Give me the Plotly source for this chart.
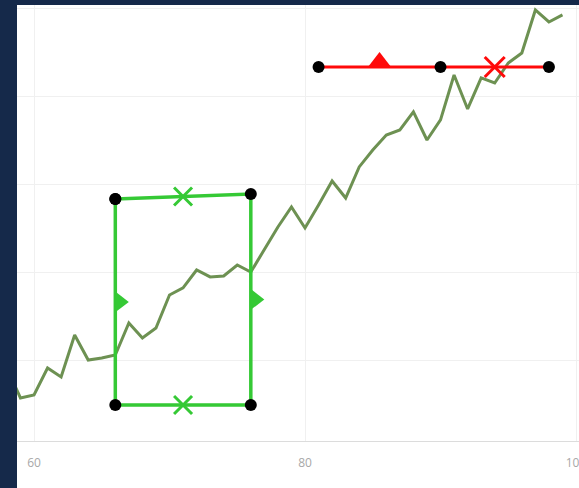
import plotly.graph_objects as go

# ---- data ----
series_x = list(range(58, 100))
series_y = [9.20, 5.80, 6.14, 9.20, 8.18, 12.95, 10.11, 10.34, 10.68, 14.32,
            12.61, 13.75, 17.50, 18.30, 20.34, 19.55, 19.66, 20.91, 20.11, 22.61,
            25.23, 27.50, 25.11, 27.73, 30.45, 28.52, 32.05, 33.98, 35.68, 36.25,
            38.30, 35.11, 37.39, 42.50, 38.64, 42.16, 41.59, 43.86, 45.00, 49.89,
            48.52, 49.32]

poly_x = [66, 76, 76, 66]
poly_y = [28.41, 28.98, 5.0, 5.0]

red_x = [81, 90, 98]
red_y = [43.41, 43.41, 43.41]

x_ticks = [60, 80, 100]

# ---- layout geometry ----
W, H = 579, 488
ML, MR, MT, MB = 17, 0, 5, 47
XR = [58.745, 100.22]
YR = [0.909, 50.45]
px_per_x = (W - ML - MR) / (XR[1] - XR[0])
px_per_y = (H - MT - MB) / (YR[1] - YR[0])

GREEN = "#35c935"
OLIVE = "#6d9152"
BG = "#15294a"

fig = go.Figure()

fig.add_trace(go.Scatter(x=series_x, y=series_y, mode="lines",
                         line=dict(color=OLIVE, width=3), hoverinfo="skip"))

# polygon (closed)
px_c = poly_x + poly_x[:1]
py_c = poly_y + poly_y[:1]
fig.add_trace(go.Scatter(x=px_c, y=py_c, mode="lines+markers",
                         line=dict(color=GREEN, width=3.5),
                         marker=dict(color="black", size=12)))

# midpoints of polygon edges
mids = [((px_c[i] + px_c[i + 1]) / 2, (py_c[i] + py_c[i + 1]) / 2) for i in range(4)]
hx = [m[0] for i, m in enumerate(mids) if px_c[i] != px_c[i + 1]]
hy = [m[1] for i, m in enumerate(mids) if px_c[i] != px_c[i + 1]]
vx = [m[0] for i, m in enumerate(mids) if px_c[i] == px_c[i + 1]]
vy = [m[1] for i, m in enumerate(mids) if px_c[i] == px_c[i + 1]]

tri_g = 18
fig.add_trace(go.Scatter(x=[v + (tri_g / 4) / px_per_x for v in vx], y=vy, mode="markers",
                         marker=dict(symbol="triangle-right", color=GREEN, size=tri_g,
                                     line=dict(width=0))))
fig.add_trace(go.Scatter(x=hx, y=hy, mode="markers",
                         marker=dict(symbol="x-thin", size=18,
                                     line=dict(color=GREEN, width=3))))

# red line
fig.add_trace(go.Scatter(x=red_x, y=red_y, mode="lines+markers",
                         line=dict(color="#ff0a0a", width=3),
                         marker=dict(color="black", size=12)))
tri_r = 20
fig.add_trace(go.Scatter(x=[(red_x[0] + red_x[1]) / 2],
                         y=[(red_y[0] + red_y[1]) / 2 + (tri_r / 4) / px_per_y],
                         mode="markers",
                         marker=dict(symbol="triangle-up", color="#ff0a0a", size=tri_r,
                                     line=dict(width=0))))
fig.add_trace(go.Scatter(x=[(red_x[1] + red_x[2]) / 2], y=[(red_y[1] + red_y[2]) / 2],
                         mode="markers",
                         marker=dict(symbol="x-thin", size=20,
                                     line=dict(color="#ff0a0a", width=3))))

fig.add_shape(type="rect", xref="paper", yref="paper",
              x0=0, x1=1.02, y0=-MB / (H - MT - MB), y1=1,
              fillcolor="white", line=dict(width=0), layer="below")

fig.update_layout(
    width=W, height=H,
    margin=dict(l=ML, r=MR, t=MT, b=MB, pad=0, autoexpand=False),
    paper_bgcolor=BG,
    plot_bgcolor="white",
    showlegend=False,
    font=dict(family="Open Sans, Arial, sans-serif", size=12, color="#a8a8a8"),
    xaxis=dict(range=XR, tickvals=x_ticks, ticktext=[str(t) for t in x_ticks],
               showgrid=True, gridcolor="#f0f0f0", gridwidth=1,
               zeroline=False, showline=True, linecolor="#dcdcdc", linewidth=1,
               ticks="outside", ticklen=11, tickcolor="rgba(0,0,0,0)",
               ticklabeloverflow="allow", automargin=False,
               tickfont=dict(size=12, color="#a8a8a8")),
    yaxis=dict(range=YR, tick0=0, dtick=10, showgrid=True, gridcolor="#f0f0f0",
               gridwidth=1, zeroline=False, showticklabels=False, ticks="",
               automargin=False),
)

fig.write_html("out.html",
               config={"displayModeBar": False},
               post_script="document.body.style.margin='0';"
                           "document.body.style.background='" + BG + "';"
                           "document.body.style.overflow='hidden';")
